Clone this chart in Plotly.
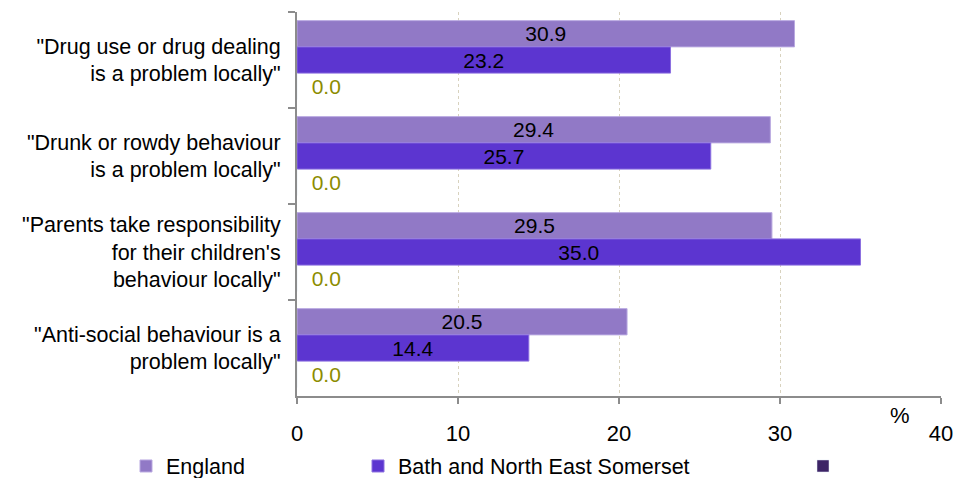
import plotly.graph_objects as go

categories = [
    '"Drug use or drug dealing<br>is a problem locally"',
    '"Drunk or rowdy behaviour<br>is a problem locally"',
    '"Parents take responsibility<br>for their children\'s<br>behaviour locally"',
    '"Anti-social behaviour is a<br>problem locally"',
]
england = [30.9, 29.4, 29.5, 20.5]
banes = [23.2, 25.7, 35.0, 14.4]
third = [0.0, 0.0, 0.0, 0.0]
x_ticks = [0, 10, 20, 30, 40]

FONT = "Liberation Sans, Arial, sans-serif"
FS_BAR = 21
FS_CAT = 21.5
FS_TICK = 22
FS_LEG = 21.5
W, H = 964, 470  # page body adds an 8px offset

fig = go.Figure()
fig.add_trace(go.Bar(
    y=categories, x=england, orientation="h", name="England",
    marker=dict(color="#9179C6", line=dict(color="#B9A9E0", width=1)),
    texttemplate="%{x:.1f}", textposition="inside", insidetextanchor="middle",
    textfont=dict(color="#000000", size=FS_BAR, family=FONT), legend="legend",
    showlegend=True,
))
fig.add_trace(go.Bar(
    y=categories, x=banes, orientation="h", name="Bath and North East Somerset",
    marker=dict(color="#5C35D0", line=dict(color="#8C70E0", width=1)),
    texttemplate="%{x:.1f}", textposition="inside", insidetextanchor="middle",
    textfont=dict(color="#000000", size=FS_BAR, family=FONT), legend="legend2",
    showlegend=True,
))
fig.add_trace(go.Bar(
    y=categories, x=third, orientation="h", name=" ",
    marker=dict(color="#3D2466"),
    texttemplate="\u00a0\u00a0%{x:.1f}", textposition="outside", cliponaxis=False,
    textfont=dict(color="#8C8C00", size=FS_BAR, family=FONT), legend="legend3",
    showlegend=True,
))

leg_y = 1 - (466 - 8) / H
leg_common = dict(orientation="h", yanchor="middle", y=leg_y,
                  xanchor="left", xref="container", yref="container",
                  font=dict(family=FONT, size=FS_LEG, color="#000000"),
                  itemwidth=30, bgcolor="rgba(0,0,0,0)", visible=True)
fig.update_layout(
    width=W, height=H, showlegend=True,
    margin=dict(l=289, r=31, t=4, b=82, pad=0, autoexpand=False),
    paper_bgcolor="white", plot_bgcolor="white",
    barmode="group", bargap=0.18, bargroupgap=0,
    uniformtext=dict(minsize=FS_BAR, mode="show"),
    font=dict(family=FONT, size=FS_CAT, color="#000000"),
    legend=dict(x=(126 - 8) / W, **leg_common),
    legend2=dict(x=(358 - 8) / W, **leg_common),
    legend3=dict(x=(803 - 8) / W, **leg_common),
    xaxis=dict(range=[0, 40], tickvals=x_ticks, showgrid=True,
               gridcolor="#D8D2BE", griddash="dot", gridwidth=1,
               showline=True, linecolor="#8C8C8C", linewidth=2,
               ticks="outside", ticklen=6, tickcolor="#8C8C8C", tickwidth=2,
               tickfont=dict(size=FS_TICK, family=FONT, color="#000000"),
               zeroline=False, ticklabelstandoff=11),
    yaxis=dict(autorange="reversed", showline=True, linecolor="#8C8C8C",
               linewidth=2, ticks="outside", tickson="boundaries", ticklen=7,
               tickcolor="#8C8C8C", tickwidth=2, ticklabelstandoff=10,
               tickfont=dict(size=FS_CAT, family=FONT, color="#000000")),
    annotations=[dict(text="%", xref="x", yref="paper", x=37.45, y=0.0,
                      xanchor="center", yanchor="top", showarrow=False,
                      yshift=-5,
                      font=dict(size=FS_TICK, family=FONT, color="#000000"))],
)

fig.write_html("out.html")
